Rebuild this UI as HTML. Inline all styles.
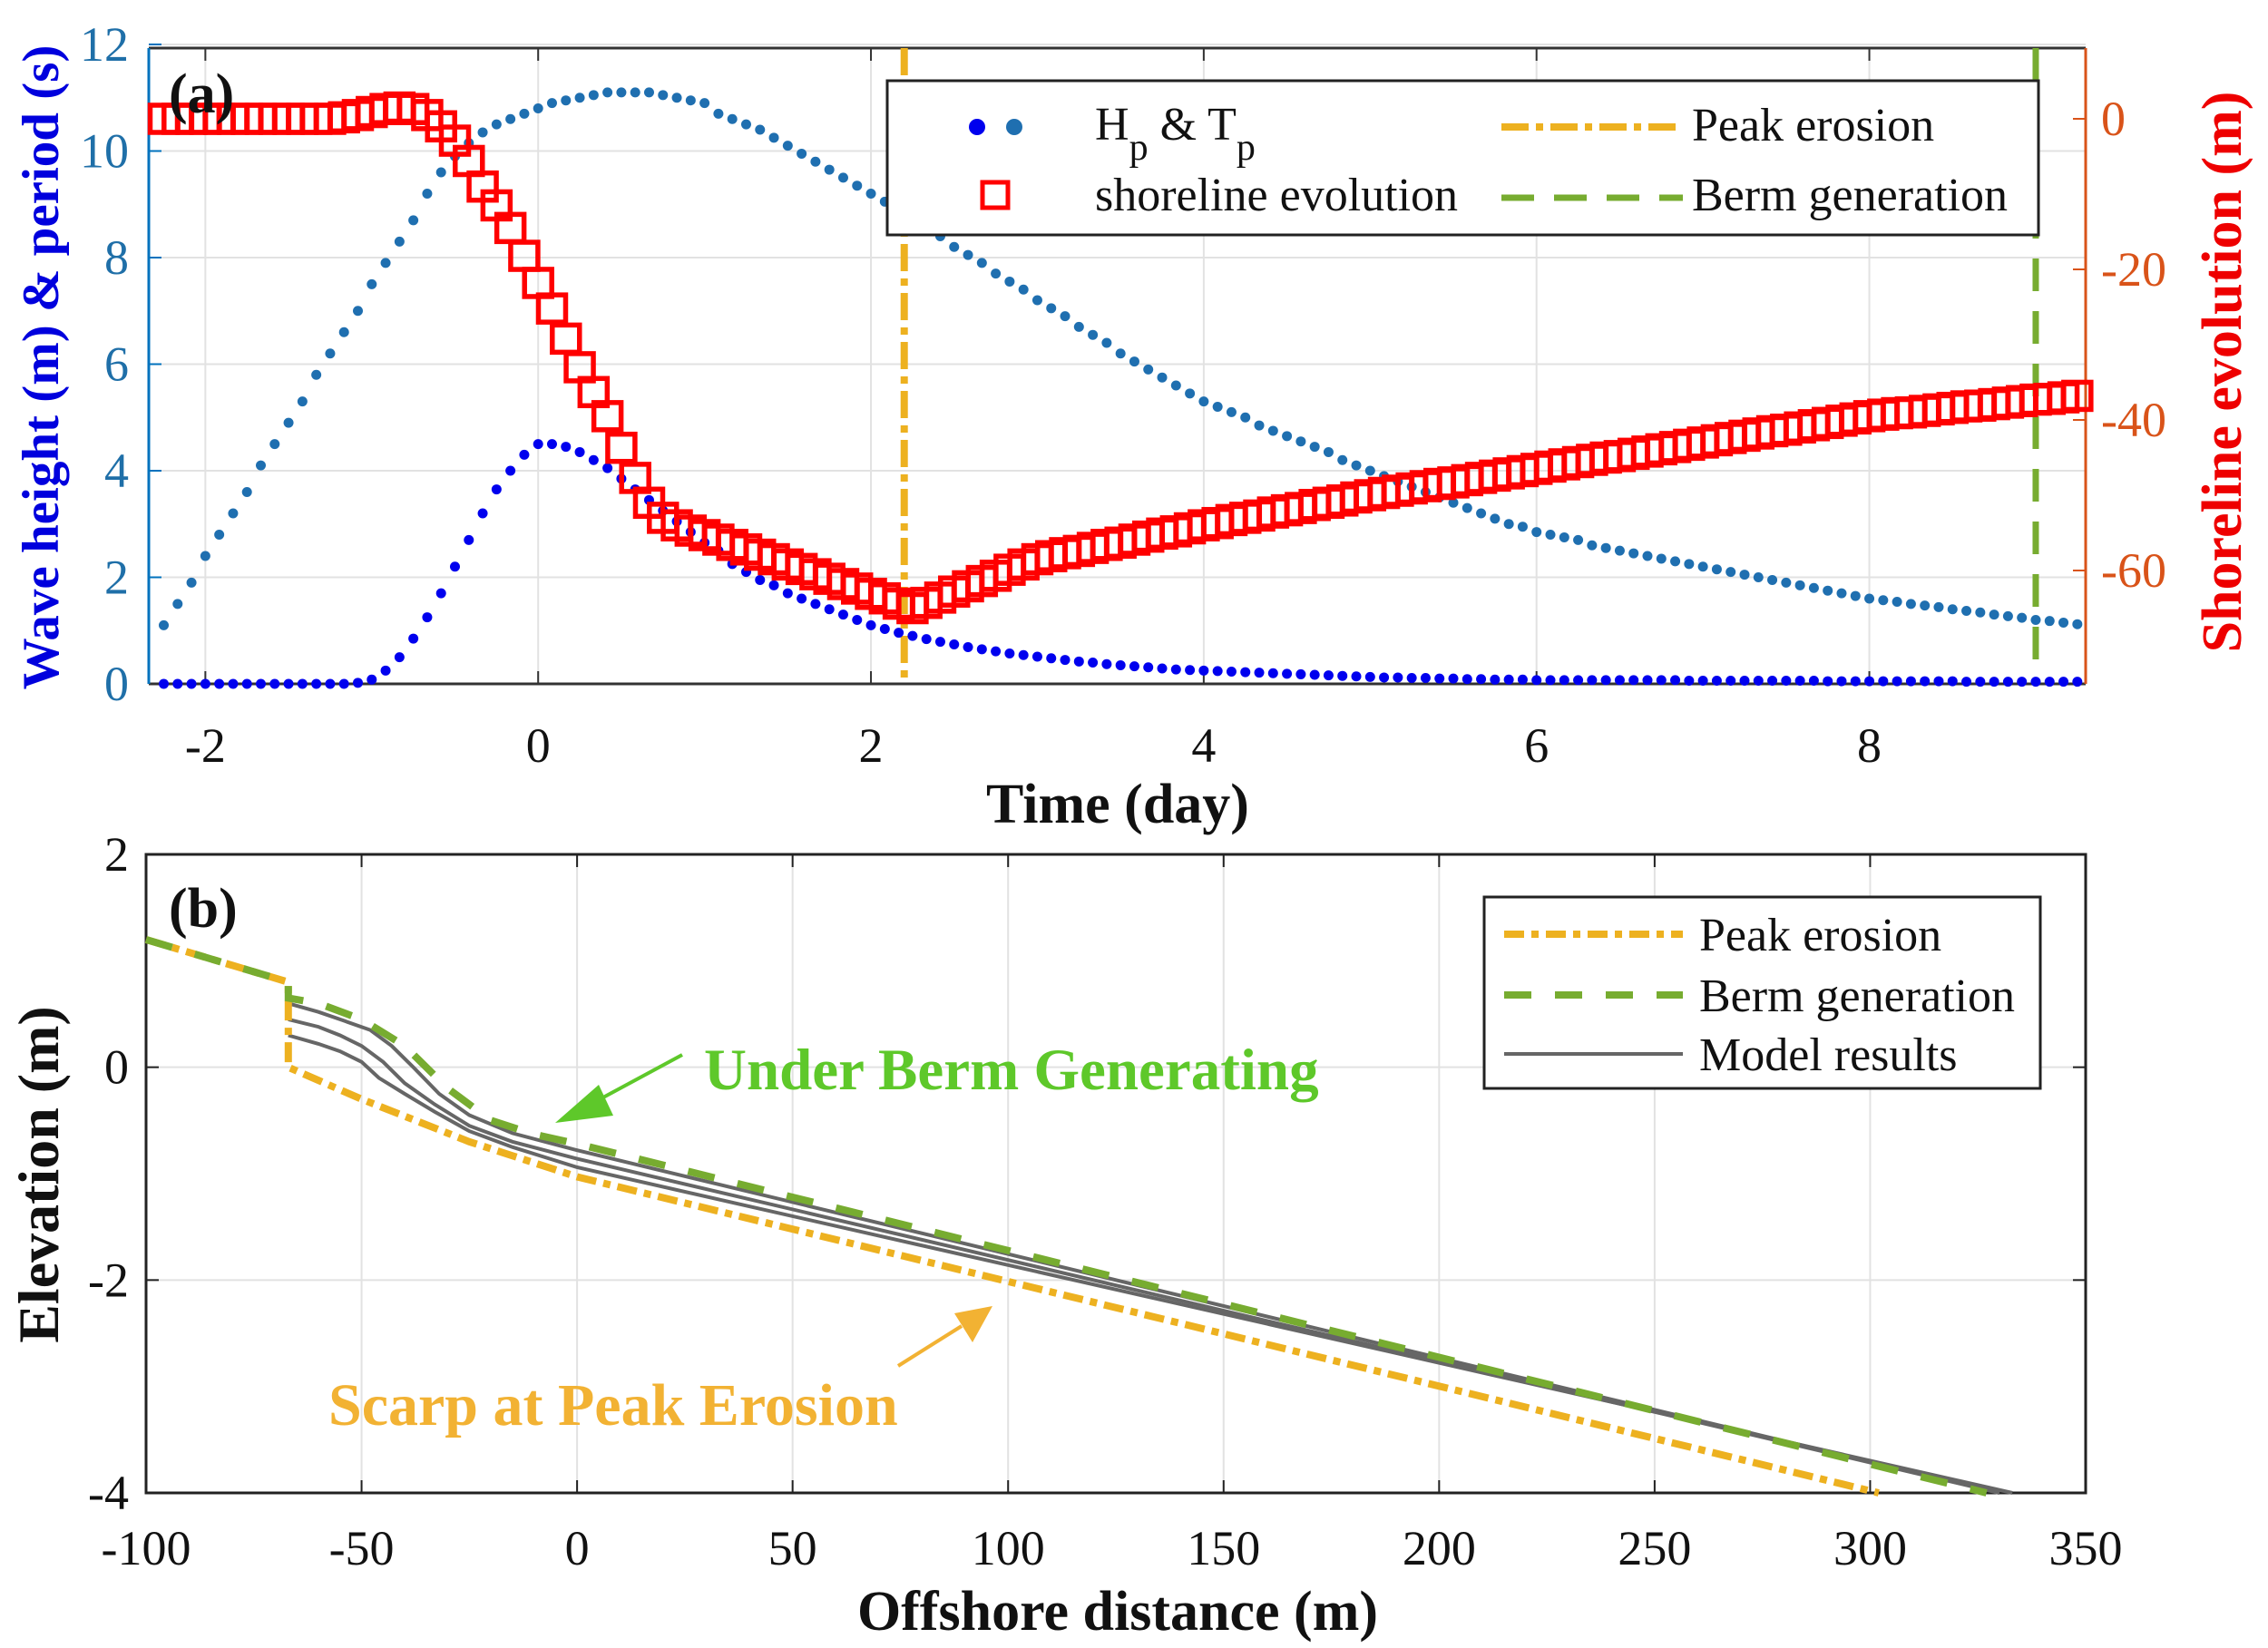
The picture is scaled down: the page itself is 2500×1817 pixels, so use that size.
<!DOCTYPE html>
<html><head><meta charset="utf-8"><style>
html,body{margin:0;padding:0;background:#fff;}
svg{display:block;font-family:"Liberation Serif",serif;}
</style></head><body>
<svg id="fig" width="2500" height="1817" viewBox="0 0 2500 1817" xmlns="http://www.w3.org/2000/svg">
<g id="pa"></g>
<g id="pb"></g>
</svg>
<script>
// ---------- Panel (a) data ----------
const timeStart = -2.25;           // days, first sample
const timeStep = 1/12;             // days between samples
const tpValues = [1.1,1.5,1.9,2.4,2.8,3.2,3.6,4.1,4.5,4.9,5.3,5.8,6.2,6.6,7.0,7.5,7.9,8.3,8.7,9.2,9.6,
9.9,10.15,10.35,10.5,10.6,10.7,10.8,10.9,10.95,11.0,11.05,11.1,11.1,11.1,11.1,11.05,11.0,10.95,10.9,
10.7,10.6,10.5,10.4,10.25,10.1,9.95,9.8,9.65,9.5,9.35,9.2,9.05,8.9,
8.75,8.55,8.4,8.2,8.05,7.9,7.7,7.55,7.4,7.2,7.05,6.9,6.7,6.55,6.4,6.2,6.05,5.9,5.75,5.6,5.45,5.3,
5.2,5.1,5.0,4.85,4.75,4.65,4.55,4.45,4.35,4.2,4.1,4.0,
3.9,3.8,3.7,3.6,3.5,3.4,3.3,3.2,3.1,3.0,2.95,2.85,
2.8,2.75,2.7,2.6,2.55,2.5,2.45,2.4,2.35,2.3,2.25,2.2,2.15,2.1,2.05,2.0,1.95,1.9,1.85,1.8,1.75,1.7,1.65,1.6,
1.57,1.54,1.5,1.47,1.44,1.4,1.37,1.34,1.3,1.27,1.24,1.2,1.18,1.15,1.12];
const hpValues = [0,0,0,0,0,0,0,0,0,0,0,0,0,0,0.02,0.08,0.25,0.5,0.85,1.25,1.7,2.2,2.7,3.2,3.65,4.0,4.3,4.5,4.5,4.45,4.35,4.2,4.05,3.85,3.65,3.45,3.25,3.05,2.85,2.65,2.5,2.25,2.1,1.95,1.85,1.7,1.6,1.5,1.4,1.3,1.2,1.1,1.03,0.96,0.9,
0.84,0.79,0.74,0.69,0.65,0.61,0.57,0.54,0.51,0.48,0.45,0.42,0.40,0.37,0.35,0.33,0.31,0.29,0.27,0.26,0.25,
0.24,0.23,0.22,0.21,0.2,0.19,0.18,0.17,0.16,0.15,0.14,0.13,0.12,0.12,0.11,0.11,0.1,0.1,0.09,0.09,0.08,0.08,0.08,0.07,
0.07,0.07,0.07,0.07,0.07,0.07,0.07,0.07,0.07,0.07,0.06,0.06,0.06,0.06,0.06,0.06,0.06,0.06,0.06,0.06,0.05,0.05,0.05,0.05,0.05,0.05,0.05,0.05,0.05,0.05,0.04,0.04,0.04,0.04,0.04,0.04,0.04,0.04,0.04];
const shoreValues = [0,0,0,0,0,0,0,0,0,0,0,0,0,0.2,0.5,0.9,1.3,1.5,1.3,0.5,-1,-2.9,-5.6,-9.0,-11.5,-14.5,-18.2,-21.8,-25.2,-29.2,-33,-36.3,-39.5,-43.7,-47.7,-51,-53,-54,-54.7,-55.3,
-55.9,-56.6,-57.2,-57.9,-58.5,-59.2,-59.8,-60.5,-61.1,-61.8,-62.4,-63.1,-63.7,-64.4,-65,
-64.3,-63.6,-62.8,-62.1,-61.4,-60.7,-59.9,-59.2,-58.5,
-58.1,-57.7,-57.4,-57,-56.6,-56.3,-55.9,-55.5,-55.1,-54.8,-54.4,-54,
-53.7,-53.3,-53,-52.7,-52.3,-52,-51.7,-51.3,-51,-50.7,-50.3,-50,
-49.7,-49.4,-49.1,-48.8,-48.5,-48.3,-48,-47.7,-47.4,-47.1,-46.8,-46.5,
-46.2,-45.9,-45.6,-45.3,-45,-44.8,-44.5,-44.2,-43.9,-43.6,-43.3,-43,
-42.7,-42.4,-42.1,-41.8,-41.5,-41.3,-41,-40.7,-40.4,-40.1,-39.8,-39.5,
-39.3,-39.1,-39,-38.8,-38.6,-38.4,-38.2,-38.1,-37.9,-37.7,-37.5,-37.3,-37.2,-37,-36.8];
const peakErosionDay = 2.2;
const bermDay = 9.0;
const aXTicks = [-2,0,2,4,6,8];
const aYTicks = [0,2,4,6,8,10,12];
const aY2Ticks = [0,-20,-40,-60];

// ---------- Panel (b) data ----------
const bXTicks = [-100,-50,0,50,100,150,200,250,300,350];
const bYTicks = [2,0,-2,-4];
const peakX = [-100,-67,-67,-50,-25,0,302];
const peakY = [1.2,0.8,0.0,-0.3,-0.7,-1.03,-4];
const bermX = [-100,-67,-67,-60,-50,-40,-30,-20,-10,0,327];
const bermY = [1.2,0.8,0.65,0.6,0.45,0.2,-0.2,-0.5,-0.63,-0.72,-4];
const model1X = [-67,-60,-55,-48,-43,-38,-32,-25,-15,0,330];
const model1Y = [0.6,0.52,0.45,0.35,0.2,0.0,-0.25,-0.45,-0.62,-0.78,-4];
const model2X = [-67,-60,-55,-50,-45,-40,-33,-25,-15,0,330];
const model2Y = [0.45,0.38,0.3,0.2,0.05,-0.15,-0.35,-0.55,-0.7,-0.86,-4];
const model3X = [-67,-60,-55,-50,-46,-40,-33,-25,-15,0,333];
const model3Y = [0.3,0.22,0.15,0.05,-0.1,-0.25,-0.42,-0.6,-0.75,-0.94,-4];

const NS = "http://www.w3.org/2000/svg";
function mk(tag, attrs, parent, txt){
  const e = document.createElementNS(NS, tag);
  for (const k in attrs) e.setAttribute(k, attrs[k]);
  if (txt !== undefined) e.textContent = txt;
  parent.appendChild(e);
  return e;
}
const pa = document.getElementById('pa');
const pb = document.getElementById('pb');

// ---- Panel a axes ----
const aL=164, aR=2299, aT=53, aB=754;
const ax = t => aL + (t - (-2.34)) / (9.30 - (-2.34)) * (aR - aL);
const ay = v => aB - v / 12 * (aB - 49);
const ay2 = s => 131 - s * 8.3;

aXTicks.forEach(t=>{
  const g = mk('line',{x1:ax(t),x2:ax(t),y1:aT,y2:aB,stroke:'#e2e2e2','stroke-width':2},pa);
  
  
  const lb = mk('text',{x:ax(t),y:840,'font-size':54,'text-anchor':'middle',fill:'#111'},pa,String(t));
  
  
  mk('line',{x1:ax(t),x2:ax(t),y1:aT,y2:aT+14,stroke:'#333','stroke-width':2},pa);
  mk('line',{x1:ax(t),x2:ax(t),y1:aB,y2:aB-14,stroke:'#333','stroke-width':2},pa);
});
aYTicks.forEach(v=>{
  const g = mk('line',{x1:aL,x2:aR,y1:ay(v),y2:ay(v),stroke:'#e2e2e2','stroke-width':2},pa);
  
  
  const lb = mk('text',{x:142,y:ay(v)+18,'font-size':54,'text-anchor':'end',fill:'#1f6fa8'},pa,String(v));
  
  
  mk('line',{x1:aL,x2:aL+14,y1:ay(v),y2:ay(v),stroke:'#0072BD','stroke-width':2},pa);
});
aY2Ticks.forEach(s=>{
  const lb = mk('text',{x:2316,y:ay2(s)+18,'font-size':54,'text-anchor':'start',fill:'#D95319'},pa,String(s));
  
  
  mk('line',{x1:aR-14,x2:aR,y1:ay2(s),y2:ay2(s),stroke:'#D95319','stroke-width':2},pa);
});
mk('line',{x1:aL,x2:aR,y1:aT,y2:aT,stroke:'#333','stroke-width':3},pa);
mk('line',{x1:aL,x2:aR,y1:aB,y2:aB,stroke:'#333','stroke-width':3},pa);
mk('line',{x1:aL,x2:aL,y1:aT,y2:aB,stroke:'#0072BD','stroke-width':3},pa);
mk('line',{x1:aR,x2:aR,y1:aT,y2:aB,stroke:'#D95319','stroke-width':3},pa);

const pe = mk('line',{x1:ax(peakErosionDay),x2:ax(peakErosionDay),y1:aT,y2:aB,stroke:'#EDB120','stroke-width':8,'stroke-dasharray':'30 8 8 8'},pa);


const bl = mk('line',{x1:ax(bermDay),x2:ax(bermDay),y1:aT,y2:aB,stroke:'#77AC30','stroke-width':7,'stroke-dasharray':'36 22'},pa);



const gTp = mk('g',{},pa);


const gHp = mk('g',{},pa);


const gSh = mk('g',{},pa);


tpValues.forEach((v,i)=>{
  const t = timeStart + i*timeStep;
  const c = mk('circle',{cx:ax(t),cy:ay(v),r:5.5,fill:'#1f6fb0'},gTp);
  
  
});
hpValues.forEach((v,i)=>{
  const t = timeStart + i*timeStep;
  const c = mk('circle',{cx:ax(t),cy:ay(v),r:5.5,fill:'#0000ee'},gHp);
  
  
});
shoreValues.forEach((s,i)=>{
  const t = timeStart + i*timeStep;
  const r = mk('rect',{x:ax(t)-15,y:ay2(s)-15,width:30,height:30,fill:'none',stroke:'#ff0000','stroke-width':5.5},gSh);
  
  
});

// legend a
const la = mk('g',{},pa);


mk('rect',{x:978,y:89,width:1269,height:170,fill:'#fff',stroke:'#222','stroke-width':3},la);
mk('circle',{cx:1077,cy:140,r:9,fill:'#0000ee'},la);
mk('circle',{cx:1118,cy:140,r:9,fill:'#1f6fb0'},la);
const t1 = mk('text',{x:1207,y:154,'font-size':52,fill:'#111'},la);
t1.innerHTML = 'H<tspan dy="22" font-size="42">p</tspan><tspan dy="-22"> &amp; T</tspan><tspan dy="22" font-size="42">p</tspan>';


mk('rect',{x:1083,y:201,width:28,height:28,fill:'none',stroke:'#ff0000','stroke-width':5},la);
const t2 = mk('text',{x:1207,y:232,'font-size':52,fill:'#111'},la,'shoreline evolution');


mk('line',{x1:1655,x2:1855,y1:140,y2:140,stroke:'#EDB120','stroke-width':8,'stroke-dasharray':'30 8 8 8'},la);
const t3 = mk('text',{x:1865,y:155,'font-size':52,fill:'#111'},la,'Peak erosion');


mk('line',{x1:1655,x2:1855,y1:218,y2:218,stroke:'#77AC30','stroke-width':7,'stroke-dasharray':'36 22'},la);
const t4 = mk('text',{x:1865,y:232,'font-size':52,fill:'#111'},la,'Berm generation');



const pla = mk('text',{x:186,y:124,'font-size':62,'font-weight':'bold',fill:'#111'},pa,'(a)');


const xta = mk('text',{x:1232,y:907,'font-size':62,'font-weight':'bold','text-anchor':'middle',fill:'#111'},pa,'Time (day)');


const yta = mk('text',{x:0,y:0,'font-size':57,'font-weight':'bold','text-anchor':'middle',fill:'#0000dd',transform:'translate(64,405) rotate(-90)'},pa,'Wave height (m) & period (s)');


const y2ta = mk('text',{x:0,y:0,'font-size':62,'font-weight':'bold','text-anchor':'middle',fill:'#ee0000',transform:'translate(2470,410) rotate(-90)'},pa,'Shoreline evolution (m)');



// ---- Panel b ----
const bL=161, bR=2299, bT=942, bB=1646;
const bx = x => bL + (x + 100) / 450 * (bR - bL);
const by = y => bT + (2 - y) / 6 * (bB - bT);
bXTicks.forEach(x=>{
  const g = mk('line',{x1:bx(x),x2:bx(x),y1:bT,y2:bB,stroke:'#e2e2e2','stroke-width':2},pb);
  
  
  mk('line',{x1:bx(x),x2:bx(x),y1:bT,y2:bT+14,stroke:'#222','stroke-width':2},pb);
  mk('line',{x1:bx(x),x2:bx(x),y1:bB,y2:bB-14,stroke:'#222','stroke-width':2},pb);
  const lb = mk('text',{x:bx(x),y:1725,'font-size':54,'text-anchor':'middle',fill:'#111'},pb,String(x));
  
  
});
bYTicks.forEach(y=>{
  const g = mk('line',{x1:bL,x2:bR,y1:by(y),y2:by(y),stroke:'#e2e2e2','stroke-width':2},pb);
  
  
  mk('line',{x1:bL,x2:bL+14,y1:by(y),y2:by(y),stroke:'#222','stroke-width':2},pb);
  mk('line',{x1:bR-14,x2:bR,y1:by(y),y2:by(y),stroke:'#222','stroke-width':2},pb);
  const lb = mk('text',{x:142,y:by(y)+18,'font-size':54,'text-anchor':'end',fill:'#111'},pb,String(y));
  
  
});
mk('rect',{x:bL,y:bT,width:bR-bL,height:bB-bT,fill:'none',stroke:'#222','stroke-width':3},pb);

function pts(xs,ys){return xs.map((x,i)=>bx(x).toFixed(1)+','+by(ys[i]).toFixed(1)).join(' ');}
[[model1X,model1Y],[model2X,model2Y],[model3X,model3Y]].forEach(([xs,ys])=>{
  const p = mk('polyline',{points:pts(xs,ys),fill:'none',stroke:'#666','stroke-width':4},pb);
  
  
});
const pPeak = mk('polyline',{points:pts(peakX,peakY),fill:'none',stroke:'#EDB120','stroke-width':8,'stroke-dasharray':'22 8 8 8'},pb);


const pBerm = mk('polyline',{points:pts(bermX,bermY),fill:'none',stroke:'#77AC30','stroke-width':8,'stroke-dasharray':'30 26'},pb);



const an1 = mk('text',{x:776,y:1201,'font-size':65,'font-weight':'bold',fill:'#5ec82a'},pb,'Under Berm Generating');


mk('line',{x1:752,y1:1163,x2:650,y2:1218,stroke:'#5ec82a','stroke-width':4},pb);
mk('polygon',{points:'612,1238 660,1196 676,1230',fill:'#5ec82a'},pb);
const an2 = mk('text',{x:362,y:1571,'font-size':66,'font-weight':'bold',fill:'#f2b233'},pb,'Scarp at Peak Erosion');


mk('line',{x1:990,y1:1506,x2:1060,y2:1462,stroke:'#f2b233','stroke-width':4},pb);
mk('polygon',{points:'1094,1440 1052,1448 1072,1480',fill:'#f2b233'},pb);

const lbg = mk('g',{},pb);


mk('rect',{x:1636,y:989,width:613,height:211,fill:'#fff',stroke:'#222','stroke-width':3},lbg);
mk('line',{x1:1658,x2:1855,y1:1030,y2:1030,stroke:'#EDB120','stroke-width':8,'stroke-dasharray':'22 8 8 8'},lbg);
mk('line',{x1:1658,x2:1855,y1:1097,y2:1097,stroke:'#77AC30','stroke-width':8,'stroke-dasharray':'30 26'},lbg);
mk('line',{x1:1658,x2:1855,y1:1162,y2:1162,stroke:'#666','stroke-width':4},lbg);
[['Peak erosion',1048,'legend-b-peak'],['Berm generation',1115,'legend-b-berm'],['Model results',1180,'legend-b-model']].forEach(([s,y,n])=>{
  const t = mk('text',{x:1873,y:y,'font-size':52,fill:'#111'},lbg,s);
  
  
});

const plb = mk('text',{x:186,y:1022,'font-size':62,'font-weight':'bold',fill:'#111'},pb,'(b)');


const xtb = mk('text',{x:1232,y:1797,'font-size':62,'font-weight':'bold','text-anchor':'middle',fill:'#111'},pb,'Offshore distance (m)');


const ytb = mk('text',{x:0,y:0,'font-size':64,'font-weight':'bold','text-anchor':'middle',fill:'#111',transform:'translate(64,1295) rotate(-90)'},pb,'Elevation (m)');


</script>
</body></html>
